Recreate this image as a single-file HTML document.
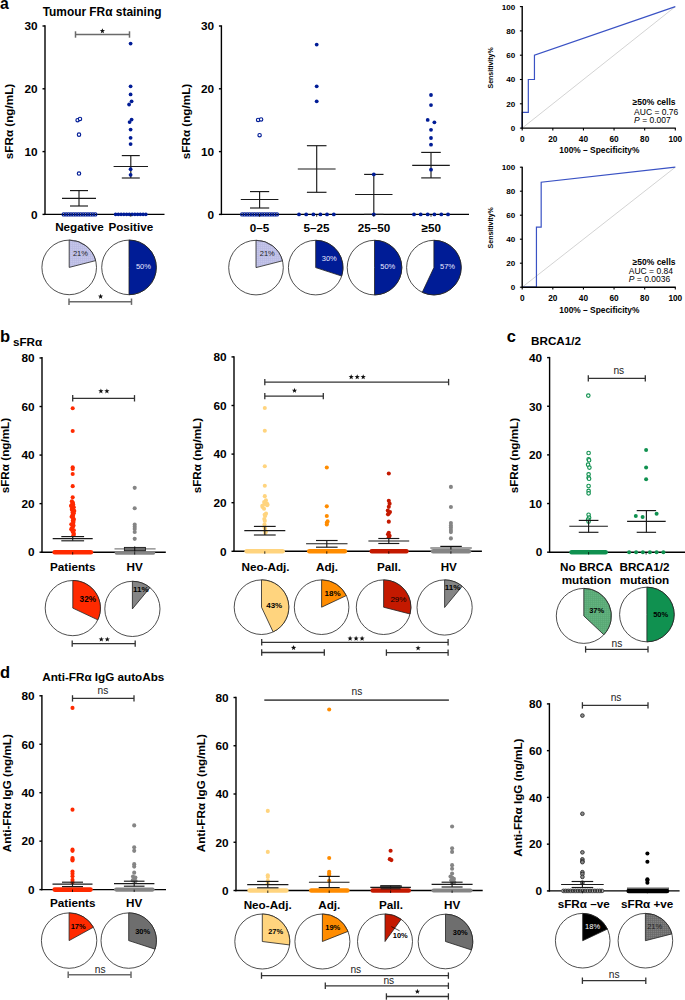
<!DOCTYPE html><html><head><meta charset="utf-8"><style>html,body{margin:0;padding:0;background:#fff;}svg{display:block;font-family:"Liberation Sans", sans-serif;}</style></head><body><svg width="685" height="1000" viewBox="0 0 685 1000" font-family="'Liberation Sans', sans-serif">
<defs><pattern id="pLav" width="2" height="2" patternUnits="userSpaceOnUse"><rect width="2" height="2" fill="#c6c7ea"/><rect width="2" height="0.6" fill="#b8b9e2"/><rect width="0.6" height="2" fill="#b8b9e2"/></pattern><pattern id="pLG" width="2" height="2" patternUnits="userSpaceOnUse"><rect width="2" height="2" fill="#64b380"/><rect width="2" height="0.6" fill="#56a673"/><rect width="0.6" height="2" fill="#56a673"/></pattern><pattern id="pGr" width="2" height="2" patternUnits="userSpaceOnUse"><rect width="2" height="2" fill="#808080"/><rect width="2" height="0.6" fill="#666"/><rect width="0.6" height="2" fill="#666"/></pattern></defs>
<rect width="685" height="1000" fill="#fff"/>
<text x="0.0" y="9.0" font-size="15.8" font-weight="bold" text-anchor="start" fill="#000" >a</text>
<text x="42.7" y="16.0" font-size="11.9" font-weight="bold" text-anchor="start" fill="#000" >Tumour FR&#945; staining</text>
<line x1="45.00" y1="25.30" x2="45.00" y2="215.10" stroke="#000" stroke-width="1.4"/>
<line x1="44.30" y1="214.40" x2="164.50" y2="214.40" stroke="#000" stroke-width="1.4"/>
<line x1="42.50" y1="214.40" x2="45.00" y2="214.40" stroke="#000" stroke-width="1.4"/>
<text x="37.6" y="218.6" font-size="11.8" font-weight="bold" text-anchor="end" fill="#000" >0</text>
<line x1="42.50" y1="151.60" x2="45.00" y2="151.60" stroke="#000" stroke-width="1.4"/>
<text x="37.6" y="155.8" font-size="11.8" font-weight="bold" text-anchor="end" fill="#000" >10</text>
<line x1="42.50" y1="88.80" x2="45.00" y2="88.80" stroke="#000" stroke-width="1.4"/>
<text x="37.6" y="93.0" font-size="11.8" font-weight="bold" text-anchor="end" fill="#000" >20</text>
<line x1="42.50" y1="26.00" x2="45.00" y2="26.00" stroke="#000" stroke-width="1.4"/>
<text x="37.6" y="30.2" font-size="11.8" font-weight="bold" text-anchor="end" fill="#000" >30</text>
<text transform="translate(12.6,121.5) rotate(-90)" x="0" y="0" font-size="11.7" font-weight="bold" text-anchor="middle" fill="#000">sFR&#945; (ng/mL)</text>
<circle cx="77.60" cy="120.20" r="1.7" fill="#fff" stroke="#001c96" stroke-width="1.15"/>
<circle cx="80.00" cy="118.94" r="1.7" fill="#fff" stroke="#001c96" stroke-width="1.15"/>
<circle cx="79.00" cy="134.64" r="1.7" fill="#fff" stroke="#001c96" stroke-width="1.15"/>
<circle cx="79.00" cy="173.58" r="1.7" fill="#fff" stroke="#001c96" stroke-width="1.15"/>
<circle cx="63.70" cy="214.40" r="1.6" fill="none" stroke="#001c96" stroke-width="1.15"/>
<circle cx="66.13" cy="214.40" r="1.6" fill="none" stroke="#001c96" stroke-width="1.15"/>
<circle cx="68.56" cy="214.40" r="1.6" fill="none" stroke="#001c96" stroke-width="1.15"/>
<circle cx="70.99" cy="214.40" r="1.6" fill="none" stroke="#001c96" stroke-width="1.15"/>
<circle cx="73.42" cy="214.40" r="1.6" fill="none" stroke="#001c96" stroke-width="1.15"/>
<circle cx="75.85" cy="214.40" r="1.6" fill="none" stroke="#001c96" stroke-width="1.15"/>
<circle cx="78.28" cy="214.40" r="1.6" fill="none" stroke="#001c96" stroke-width="1.15"/>
<circle cx="80.71" cy="214.40" r="1.6" fill="none" stroke="#001c96" stroke-width="1.15"/>
<circle cx="83.14" cy="214.40" r="1.6" fill="none" stroke="#001c96" stroke-width="1.15"/>
<circle cx="85.57" cy="214.40" r="1.6" fill="none" stroke="#001c96" stroke-width="1.15"/>
<circle cx="88.00" cy="214.40" r="1.6" fill="none" stroke="#001c96" stroke-width="1.15"/>
<circle cx="90.43" cy="214.40" r="1.6" fill="none" stroke="#001c96" stroke-width="1.15"/>
<circle cx="92.86" cy="214.40" r="1.6" fill="none" stroke="#001c96" stroke-width="1.15"/>
<circle cx="95.29" cy="214.40" r="1.6" fill="none" stroke="#001c96" stroke-width="1.15"/>
<line x1="62.00" y1="198.30" x2="96.00" y2="198.30" stroke="#1a1a1a" stroke-width="1.15"/>
<line x1="79.00" y1="190.60" x2="79.00" y2="206.00" stroke="#1a1a1a" stroke-width="1.15"/>
<line x1="70.00" y1="190.60" x2="88.00" y2="190.60" stroke="#1a1a1a" stroke-width="1.15"/>
<line x1="70.00" y1="206.00" x2="88.00" y2="206.00" stroke="#1a1a1a" stroke-width="1.15"/>
<line x1="113.60" y1="166.50" x2="148.00" y2="166.50" stroke="#1a1a1a" stroke-width="1.15"/>
<line x1="130.80" y1="155.60" x2="130.80" y2="178.00" stroke="#1a1a1a" stroke-width="1.15"/>
<line x1="121.80" y1="155.60" x2="139.80" y2="155.60" stroke="#1a1a1a" stroke-width="1.15"/>
<line x1="121.80" y1="178.00" x2="139.80" y2="178.00" stroke="#1a1a1a" stroke-width="1.15"/>
<circle cx="130.60" cy="43.58" r="1.9" fill="#001c96"/>
<circle cx="130.60" cy="86.29" r="1.9" fill="#001c96"/>
<circle cx="130.60" cy="94.45" r="1.9" fill="#001c96"/>
<circle cx="131.60" cy="101.36" r="1.9" fill="#001c96"/>
<circle cx="129.10" cy="104.50" r="1.9" fill="#001c96"/>
<circle cx="131.60" cy="119.57" r="1.9" fill="#001c96"/>
<circle cx="129.60" cy="122.08" r="1.9" fill="#001c96"/>
<circle cx="130.60" cy="129.62" r="1.9" fill="#001c96"/>
<circle cx="130.60" cy="137.78" r="1.9" fill="#001c96"/>
<circle cx="130.60" cy="144.06" r="1.9" fill="#001c96"/>
<circle cx="130.60" cy="169.18" r="1.9" fill="#001c96"/>
<circle cx="130.60" cy="174.84" r="1.9" fill="#001c96"/>
<circle cx="115.60" cy="214.40" r="1.8" fill="#001c96"/>
<circle cx="118.35" cy="214.40" r="1.8" fill="#001c96"/>
<circle cx="121.10" cy="214.40" r="1.8" fill="#001c96"/>
<circle cx="123.85" cy="214.40" r="1.8" fill="#001c96"/>
<circle cx="126.60" cy="214.40" r="1.8" fill="#001c96"/>
<circle cx="129.35" cy="214.40" r="1.8" fill="#001c96"/>
<circle cx="132.10" cy="214.40" r="1.8" fill="#001c96"/>
<circle cx="134.85" cy="214.40" r="1.8" fill="#001c96"/>
<circle cx="137.60" cy="214.40" r="1.8" fill="#001c96"/>
<circle cx="140.35" cy="214.40" r="1.8" fill="#001c96"/>
<circle cx="143.10" cy="214.40" r="1.8" fill="#001c96"/>
<circle cx="145.85" cy="214.40" r="1.8" fill="#001c96"/>
<line x1="130.80" y1="214.40" x2="130.80" y2="216.80" stroke="#000" stroke-width="0.8"/>
<text x="79.5" y="231.0" font-size="11.7" font-weight="bold" text-anchor="middle" fill="#000" >Negative</text>
<text x="130.8" y="231.0" font-size="11.7" font-weight="bold" text-anchor="middle" fill="#000" >Positive</text>
<circle cx="69.20" cy="267.40" r="27.3" fill="#fff" stroke="#222" stroke-width="0.8"/>
<path d="M69.20,267.40 L69.20,240.10 A27.3,27.3 0 0 1 95.64,260.61 Z" fill="url(#pLav)" stroke="#222" stroke-width="0.8" stroke-linejoin="round"/>
<text x="80.4" y="256.1" font-size="7.5" font-weight="normal" text-anchor="middle" fill="#222" >21%</text>
<circle cx="129.00" cy="267.40" r="27.3" fill="#fff" stroke="#222" stroke-width="0.8"/>
<path d="M129.00,267.40 L129.00,240.10 A27.3,27.3 0 0 1 129.00,294.70 Z" fill="#001c96" stroke="#222" stroke-width="0.8" stroke-linejoin="round"/>
<text x="143.4" y="269.1" font-size="7.5" font-weight="normal" text-anchor="middle" fill="#e8e8ff" >50%</text>
<line x1="69.00" y1="301.70" x2="131.50" y2="301.70" stroke="#6a6a6a" stroke-width="1.5"/>
<line x1="69.00" y1="298.50" x2="69.00" y2="304.90" stroke="#6a6a6a" stroke-width="1.5"/>
<line x1="131.50" y1="298.50" x2="131.50" y2="304.90" stroke="#6a6a6a" stroke-width="1.5"/>
<polygon points="100.60,293.75 101.28,295.57 103.22,295.65 101.70,296.86 102.22,298.72 100.60,297.65 98.98,298.72 99.50,296.86 97.98,295.65 99.92,295.57" fill="#111"/>
<line x1="75.50" y1="34.50" x2="129.50" y2="34.50" stroke="#6a6a6a" stroke-width="1.5"/>
<line x1="75.50" y1="31.30" x2="75.50" y2="37.70" stroke="#6a6a6a" stroke-width="1.5"/>
<line x1="129.50" y1="31.30" x2="129.50" y2="37.70" stroke="#6a6a6a" stroke-width="1.5"/>
<polygon points="102.40,28.25 103.08,30.07 105.02,30.15 103.50,31.36 104.02,33.22 102.40,32.16 100.78,33.22 101.30,31.36 99.78,30.15 101.72,30.07" fill="#111"/>
<line x1="221.40" y1="25.30" x2="221.40" y2="215.10" stroke="#000" stroke-width="1.4"/>
<line x1="220.70" y1="214.40" x2="469.00" y2="214.40" stroke="#000" stroke-width="1.4"/>
<line x1="218.90" y1="214.40" x2="221.40" y2="214.40" stroke="#000" stroke-width="1.4"/>
<text x="214.0" y="218.6" font-size="11.8" font-weight="bold" text-anchor="end" fill="#000" >0</text>
<line x1="218.90" y1="151.60" x2="221.40" y2="151.60" stroke="#000" stroke-width="1.4"/>
<text x="214.0" y="155.8" font-size="11.8" font-weight="bold" text-anchor="end" fill="#000" >10</text>
<line x1="218.90" y1="88.80" x2="221.40" y2="88.80" stroke="#000" stroke-width="1.4"/>
<text x="214.0" y="93.0" font-size="11.8" font-weight="bold" text-anchor="end" fill="#000" >20</text>
<line x1="218.90" y1="26.00" x2="221.40" y2="26.00" stroke="#000" stroke-width="1.4"/>
<text x="214.0" y="30.2" font-size="11.8" font-weight="bold" text-anchor="end" fill="#000" >30</text>
<text transform="translate(189.6,121.5) rotate(-90)" x="0" y="0" font-size="11.7" font-weight="bold" text-anchor="middle" fill="#000">sFR&#945; (ng/mL)</text>
<circle cx="258.10" cy="119.90" r="1.7" fill="#fff" stroke="#001c96" stroke-width="1.15"/>
<circle cx="261.10" cy="119.40" r="1.7" fill="#fff" stroke="#001c96" stroke-width="1.15"/>
<circle cx="259.60" cy="135.20" r="1.7" fill="#fff" stroke="#001c96" stroke-width="1.15"/>
<circle cx="242.20" cy="214.40" r="1.6" fill="none" stroke="#001c96" stroke-width="1.15"/>
<circle cx="244.68" cy="214.40" r="1.6" fill="none" stroke="#001c96" stroke-width="1.15"/>
<circle cx="247.16" cy="214.40" r="1.6" fill="none" stroke="#001c96" stroke-width="1.15"/>
<circle cx="249.64" cy="214.40" r="1.6" fill="none" stroke="#001c96" stroke-width="1.15"/>
<circle cx="252.12" cy="214.40" r="1.6" fill="none" stroke="#001c96" stroke-width="1.15"/>
<circle cx="254.60" cy="214.40" r="1.6" fill="none" stroke="#001c96" stroke-width="1.15"/>
<circle cx="257.08" cy="214.40" r="1.6" fill="none" stroke="#001c96" stroke-width="1.15"/>
<circle cx="259.56" cy="214.40" r="1.6" fill="none" stroke="#001c96" stroke-width="1.15"/>
<circle cx="262.04" cy="214.40" r="1.6" fill="none" stroke="#001c96" stroke-width="1.15"/>
<circle cx="264.52" cy="214.40" r="1.6" fill="none" stroke="#001c96" stroke-width="1.15"/>
<circle cx="267.00" cy="214.40" r="1.6" fill="none" stroke="#001c96" stroke-width="1.15"/>
<circle cx="269.48" cy="214.40" r="1.6" fill="none" stroke="#001c96" stroke-width="1.15"/>
<circle cx="271.96" cy="214.40" r="1.6" fill="none" stroke="#001c96" stroke-width="1.15"/>
<circle cx="274.44" cy="214.40" r="1.6" fill="none" stroke="#001c96" stroke-width="1.15"/>
<circle cx="276.92" cy="214.40" r="1.6" fill="none" stroke="#001c96" stroke-width="1.15"/>
<line x1="240.80" y1="199.50" x2="278.40" y2="199.50" stroke="#1a1a1a" stroke-width="1.15"/>
<line x1="259.60" y1="191.60" x2="259.60" y2="208.00" stroke="#1a1a1a" stroke-width="1.15"/>
<line x1="250.00" y1="191.60" x2="269.20" y2="191.60" stroke="#1a1a1a" stroke-width="1.15"/>
<line x1="250.00" y1="208.00" x2="269.20" y2="208.00" stroke="#1a1a1a" stroke-width="1.15"/>
<line x1="297.80" y1="169.00" x2="335.60" y2="169.00" stroke="#1a1a1a" stroke-width="1.15"/>
<line x1="316.70" y1="145.70" x2="316.70" y2="192.30" stroke="#1a1a1a" stroke-width="1.15"/>
<line x1="306.90" y1="145.70" x2="326.50" y2="145.70" stroke="#1a1a1a" stroke-width="1.15"/>
<line x1="306.90" y1="192.30" x2="326.50" y2="192.30" stroke="#1a1a1a" stroke-width="1.15"/>
<circle cx="316.70" cy="44.53" r="1.9" fill="#001c96"/>
<circle cx="316.70" cy="86.29" r="1.9" fill="#001c96"/>
<circle cx="316.70" cy="101.36" r="1.9" fill="#001c96"/>
<circle cx="299.00" cy="214.40" r="1.9" fill="#001c96"/>
<circle cx="306.20" cy="214.40" r="1.9" fill="#001c96"/>
<circle cx="313.40" cy="214.40" r="1.9" fill="#001c96"/>
<circle cx="320.40" cy="214.40" r="1.9" fill="#001c96"/>
<circle cx="327.00" cy="214.40" r="1.9" fill="#001c96"/>
<circle cx="333.80" cy="214.40" r="1.9" fill="#001c96"/>
<line x1="355.10" y1="194.50" x2="392.50" y2="194.50" stroke="#1a1a1a" stroke-width="1.15"/>
<line x1="373.80" y1="174.40" x2="373.80" y2="214.40" stroke="#1a1a1a" stroke-width="1.15"/>
<line x1="364.10" y1="174.40" x2="383.50" y2="174.40" stroke="#1a1a1a" stroke-width="1.15"/>
<line x1="364.10" y1="214.40" x2="383.50" y2="214.40" stroke="#1a1a1a" stroke-width="1.15"/>
<circle cx="373.80" cy="174.40" r="1.9" fill="#001c96"/>
<circle cx="373.80" cy="214.40" r="1.9" fill="#001c96"/>
<line x1="412.20" y1="165.30" x2="449.80" y2="165.30" stroke="#1a1a1a" stroke-width="1.15"/>
<line x1="431.00" y1="152.40" x2="431.00" y2="177.90" stroke="#1a1a1a" stroke-width="1.15"/>
<line x1="421.20" y1="152.40" x2="440.80" y2="152.40" stroke="#1a1a1a" stroke-width="1.15"/>
<line x1="421.20" y1="177.90" x2="440.80" y2="177.90" stroke="#1a1a1a" stroke-width="1.15"/>
<circle cx="431.00" cy="95.00" r="1.9" fill="#001c96"/>
<circle cx="431.00" cy="105.10" r="1.9" fill="#001c96"/>
<circle cx="427.70" cy="119.90" r="1.9" fill="#001c96"/>
<circle cx="434.40" cy="122.30" r="1.9" fill="#001c96"/>
<circle cx="431.00" cy="129.80" r="1.9" fill="#001c96"/>
<circle cx="431.00" cy="138.00" r="1.9" fill="#001c96"/>
<circle cx="431.00" cy="144.70" r="1.9" fill="#001c96"/>
<circle cx="431.00" cy="169.70" r="1.9" fill="#001c96"/>
<circle cx="414.00" cy="214.40" r="1.9" fill="#001c96"/>
<circle cx="420.70" cy="214.40" r="1.9" fill="#001c96"/>
<circle cx="427.70" cy="214.40" r="1.9" fill="#001c96"/>
<circle cx="434.40" cy="214.40" r="1.9" fill="#001c96"/>
<circle cx="441.30" cy="214.40" r="1.9" fill="#001c96"/>
<circle cx="448.00" cy="214.40" r="1.9" fill="#001c96"/>
<line x1="259.60" y1="214.40" x2="259.60" y2="216.80" stroke="#000" stroke-width="0.8"/>
<line x1="316.70" y1="214.40" x2="316.70" y2="216.80" stroke="#000" stroke-width="0.8"/>
<line x1="373.80" y1="214.40" x2="373.80" y2="216.80" stroke="#000" stroke-width="0.8"/>
<line x1="431.00" y1="214.40" x2="431.00" y2="216.80" stroke="#000" stroke-width="0.8"/>
<text x="259.6" y="231.6" font-size="11.7" font-weight="bold" text-anchor="middle" fill="#000" >0&#8211;5</text>
<text x="316.6" y="231.6" font-size="11.7" font-weight="bold" text-anchor="middle" fill="#000" >5&#8211;25</text>
<text x="373.9" y="231.6" font-size="11.7" font-weight="bold" text-anchor="middle" fill="#000" >25&#8211;50</text>
<text x="431.2" y="231.6" font-size="11.7" font-weight="bold" text-anchor="middle" fill="#000" >&#8805;50</text>
<circle cx="256.00" cy="267.60" r="27.3" fill="#fff" stroke="#222" stroke-width="0.8"/>
<path d="M256.00,267.60 L256.00,240.30 A27.3,27.3 0 0 1 282.44,260.81 Z" fill="url(#pLav)" stroke="#222" stroke-width="0.8" stroke-linejoin="round"/>
<text x="267.3" y="256.1" font-size="7.5" font-weight="normal" text-anchor="middle" fill="#222" >21%</text>
<circle cx="315.70" cy="267.60" r="27.3" fill="#fff" stroke="#222" stroke-width="0.8"/>
<path d="M315.70,267.60 L315.70,240.30 A27.3,27.3 0 0 1 341.66,276.04 Z" fill="#001c96" stroke="#222" stroke-width="0.8" stroke-linejoin="round"/>
<text x="329.3" y="260.6" font-size="7.5" font-weight="normal" text-anchor="middle" fill="#e8e8ff" >30%</text>
<circle cx="374.50" cy="267.60" r="27.3" fill="#fff" stroke="#222" stroke-width="0.8"/>
<path d="M374.50,267.60 L374.50,240.30 A27.3,27.3 0 0 1 374.50,294.90 Z" fill="#001c96" stroke="#222" stroke-width="0.8" stroke-linejoin="round"/>
<text x="387.8" y="269.3" font-size="7.5" font-weight="normal" text-anchor="middle" fill="#e8e8ff" >50%</text>
<circle cx="433.90" cy="267.60" r="27.3" fill="#fff" stroke="#222" stroke-width="0.8"/>
<path d="M433.90,267.60 L433.90,240.30 A27.3,27.3 0 1 1 422.28,292.30 Z" fill="#001c96" stroke="#222" stroke-width="0.8" stroke-linejoin="round"/>
<text x="447.5" y="269.3" font-size="7.5" font-weight="normal" text-anchor="middle" fill="#e8e8ff" >57%</text>
<line x1="522.20" y1="128.10" x2="675.30" y2="6.60" stroke="#b5b5b5" stroke-width="0.6"/>
<path d="M522.20,128.10 L522.20,112.30 L528.32,112.30 L528.32,79.50 L534.45,79.50 L534.45,55.20 L675.30,6.60" fill="none" stroke="#3a52c4" stroke-width="1.2"/>
<line x1="522.20" y1="6.10" x2="522.20" y2="128.70" stroke="#000" stroke-width="1.4"/>
<line x1="521.60" y1="128.10" x2="675.80" y2="128.10" stroke="#000" stroke-width="1.4"/>
<line x1="519.90" y1="128.10" x2="522.20" y2="128.10" stroke="#000" stroke-width="1.1"/>
<text x="515.2" y="131.0" font-size="8.1" font-weight="bold" text-anchor="end" fill="#000" >0</text>
<line x1="522.20" y1="128.10" x2="522.20" y2="130.40" stroke="#000" stroke-width="1.1"/>
<text x="522.2" y="141.5" font-size="8.3" font-weight="bold" text-anchor="middle" fill="#000" >0</text>
<line x1="519.90" y1="103.80" x2="522.20" y2="103.80" stroke="#000" stroke-width="1.1"/>
<text x="515.2" y="106.7" font-size="8.1" font-weight="bold" text-anchor="end" fill="#000" >20</text>
<line x1="552.82" y1="128.10" x2="552.82" y2="130.40" stroke="#000" stroke-width="1.1"/>
<text x="552.8" y="141.5" font-size="8.3" font-weight="bold" text-anchor="middle" fill="#000" >20</text>
<line x1="519.90" y1="79.50" x2="522.20" y2="79.50" stroke="#000" stroke-width="1.1"/>
<text x="515.2" y="82.4" font-size="8.1" font-weight="bold" text-anchor="end" fill="#000" >40</text>
<line x1="583.44" y1="128.10" x2="583.44" y2="130.40" stroke="#000" stroke-width="1.1"/>
<text x="583.4" y="141.5" font-size="8.3" font-weight="bold" text-anchor="middle" fill="#000" >40</text>
<line x1="519.90" y1="55.20" x2="522.20" y2="55.20" stroke="#000" stroke-width="1.1"/>
<text x="515.2" y="58.1" font-size="8.1" font-weight="bold" text-anchor="end" fill="#000" >60</text>
<line x1="614.06" y1="128.10" x2="614.06" y2="130.40" stroke="#000" stroke-width="1.1"/>
<text x="614.1" y="141.5" font-size="8.3" font-weight="bold" text-anchor="middle" fill="#000" >60</text>
<line x1="519.90" y1="30.90" x2="522.20" y2="30.90" stroke="#000" stroke-width="1.1"/>
<text x="515.2" y="33.8" font-size="8.1" font-weight="bold" text-anchor="end" fill="#000" >80</text>
<line x1="644.68" y1="128.10" x2="644.68" y2="130.40" stroke="#000" stroke-width="1.1"/>
<text x="644.7" y="141.5" font-size="8.3" font-weight="bold" text-anchor="middle" fill="#000" >80</text>
<line x1="519.90" y1="6.60" x2="522.20" y2="6.60" stroke="#000" stroke-width="1.1"/>
<text x="515.2" y="9.5" font-size="8.1" font-weight="bold" text-anchor="end" fill="#000" >100</text>
<line x1="675.30" y1="128.10" x2="675.30" y2="130.40" stroke="#000" stroke-width="1.1"/>
<text x="675.3" y="141.5" font-size="8.3" font-weight="bold" text-anchor="middle" fill="#000" >100</text>
<text transform="translate(493.0,67.9) rotate(-90)" x="0" y="0" font-size="7" font-weight="bold" text-anchor="middle" fill="#000">Sensitivity%</text>
<text x="599.4" y="153.4" font-size="8.4" font-weight="bold" text-anchor="middle" fill="#000" >100% &#8211; Specificity%</text>
<text x="632.6" y="105.4" font-size="8.5" font-weight="bold" text-anchor="start" fill="#000" >&#8805;50% cells</text>
<text x="634.1" y="114.6" font-size="8.5" font-weight="normal" text-anchor="start" fill="#000" >AUC = 0.76</text>
<text x="634.1" y="122.7" font-size="8.5" fill="#000"><tspan font-style="italic">P</tspan> = 0.007</text>
<line x1="522.20" y1="287.20" x2="675.30" y2="167.20" stroke="#b5b5b5" stroke-width="0.6"/>
<path d="M522.20,287.20 L536.44,287.20 L536.44,227.20 L541.18,227.20 L541.18,182.20 L675.30,167.20" fill="none" stroke="#3a52c4" stroke-width="1.2"/>
<line x1="522.20" y1="166.70" x2="522.20" y2="287.80" stroke="#000" stroke-width="1.4"/>
<line x1="521.60" y1="287.20" x2="675.80" y2="287.20" stroke="#000" stroke-width="1.4"/>
<line x1="519.90" y1="287.20" x2="522.20" y2="287.20" stroke="#000" stroke-width="1.1"/>
<text x="515.2" y="290.1" font-size="8.1" font-weight="bold" text-anchor="end" fill="#000" >0</text>
<line x1="522.20" y1="287.20" x2="522.20" y2="289.50" stroke="#000" stroke-width="1.1"/>
<text x="522.2" y="300.6" font-size="8.3" font-weight="bold" text-anchor="middle" fill="#000" >0</text>
<line x1="519.90" y1="263.20" x2="522.20" y2="263.20" stroke="#000" stroke-width="1.1"/>
<text x="515.2" y="266.1" font-size="8.1" font-weight="bold" text-anchor="end" fill="#000" >20</text>
<line x1="552.82" y1="287.20" x2="552.82" y2="289.50" stroke="#000" stroke-width="1.1"/>
<text x="552.8" y="300.6" font-size="8.3" font-weight="bold" text-anchor="middle" fill="#000" >20</text>
<line x1="519.90" y1="239.20" x2="522.20" y2="239.20" stroke="#000" stroke-width="1.1"/>
<text x="515.2" y="242.1" font-size="8.1" font-weight="bold" text-anchor="end" fill="#000" >40</text>
<line x1="583.44" y1="287.20" x2="583.44" y2="289.50" stroke="#000" stroke-width="1.1"/>
<text x="583.4" y="300.6" font-size="8.3" font-weight="bold" text-anchor="middle" fill="#000" >40</text>
<line x1="519.90" y1="215.20" x2="522.20" y2="215.20" stroke="#000" stroke-width="1.1"/>
<text x="515.2" y="218.1" font-size="8.1" font-weight="bold" text-anchor="end" fill="#000" >60</text>
<line x1="614.06" y1="287.20" x2="614.06" y2="289.50" stroke="#000" stroke-width="1.1"/>
<text x="614.1" y="300.6" font-size="8.3" font-weight="bold" text-anchor="middle" fill="#000" >60</text>
<line x1="519.90" y1="191.20" x2="522.20" y2="191.20" stroke="#000" stroke-width="1.1"/>
<text x="515.2" y="194.1" font-size="8.1" font-weight="bold" text-anchor="end" fill="#000" >80</text>
<line x1="644.68" y1="287.20" x2="644.68" y2="289.50" stroke="#000" stroke-width="1.1"/>
<text x="644.7" y="300.6" font-size="8.3" font-weight="bold" text-anchor="middle" fill="#000" >80</text>
<line x1="519.90" y1="167.20" x2="522.20" y2="167.20" stroke="#000" stroke-width="1.1"/>
<text x="515.2" y="170.1" font-size="8.1" font-weight="bold" text-anchor="end" fill="#000" >100</text>
<line x1="675.30" y1="287.20" x2="675.30" y2="289.50" stroke="#000" stroke-width="1.1"/>
<text x="675.3" y="300.6" font-size="8.3" font-weight="bold" text-anchor="middle" fill="#000" >100</text>
<text transform="translate(493.0,227.8) rotate(-90)" x="0" y="0" font-size="7" font-weight="bold" text-anchor="middle" fill="#000">Sensitivity%</text>
<text x="599.4" y="312.5" font-size="8.4" font-weight="bold" text-anchor="middle" fill="#000" >100% &#8211; Specificity%</text>
<text x="632.6" y="264.6" font-size="8.5" font-weight="bold" text-anchor="start" fill="#000" >&#8805;50% cells</text>
<text x="628.8" y="273.8" font-size="8.5" font-weight="normal" text-anchor="start" fill="#000" >AUC = 0.84</text>
<text x="628.8" y="281.9" font-size="8.5" fill="#000"><tspan font-style="italic">P</tspan> = 0.0036</text>
<text x="0.0" y="342.0" font-size="16.5" font-weight="bold" text-anchor="start" fill="#000" >b</text>
<text x="12.9" y="346.4" font-size="11.7" font-weight="bold" text-anchor="start" fill="#000" >sFR&#945;</text>
<line x1="42.00" y1="357.10" x2="42.00" y2="552.90" stroke="#000" stroke-width="1.4"/>
<line x1="41.30" y1="552.20" x2="165.80" y2="552.20" stroke="#000" stroke-width="1.4"/>
<line x1="39.50" y1="552.20" x2="42.00" y2="552.20" stroke="#000" stroke-width="1.4"/>
<text x="34.6" y="556.4" font-size="11.8" font-weight="bold" text-anchor="end" fill="#000" >0</text>
<line x1="39.50" y1="503.64" x2="42.00" y2="503.64" stroke="#000" stroke-width="1.4"/>
<text x="34.6" y="507.9" font-size="11.8" font-weight="bold" text-anchor="end" fill="#000" >20</text>
<line x1="39.50" y1="455.08" x2="42.00" y2="455.08" stroke="#000" stroke-width="1.4"/>
<text x="34.6" y="459.3" font-size="11.8" font-weight="bold" text-anchor="end" fill="#000" >40</text>
<line x1="39.50" y1="406.52" x2="42.00" y2="406.52" stroke="#000" stroke-width="1.4"/>
<text x="34.6" y="410.7" font-size="11.8" font-weight="bold" text-anchor="end" fill="#000" >60</text>
<line x1="39.50" y1="357.96" x2="42.00" y2="357.96" stroke="#000" stroke-width="1.4"/>
<text x="34.6" y="362.2" font-size="11.8" font-weight="bold" text-anchor="end" fill="#000" >80</text>
<text transform="translate(9.1,455.6) rotate(-90)" x="0" y="0" font-size="11.7" font-weight="bold" text-anchor="middle" fill="#000">sFR&#945; (ng/mL)</text>
<line x1="72.70" y1="398.30" x2="134.50" y2="398.30" stroke="#333" stroke-width="1.3"/>
<line x1="72.70" y1="395.10" x2="72.70" y2="401.50" stroke="#333" stroke-width="1.3"/>
<line x1="134.50" y1="395.10" x2="134.50" y2="401.50" stroke="#333" stroke-width="1.3"/>
<polygon points="100.90,388.45 101.58,390.27 103.52,390.35 102.00,391.56 102.52,393.42 100.90,392.35 99.28,393.42 99.80,391.56 98.28,390.35 100.22,390.27" fill="#111"/>
<polygon points="106.90,388.45 107.58,390.27 109.52,390.35 108.00,391.56 108.52,393.42 106.90,392.35 105.28,393.42 105.80,391.56 104.28,390.35 106.22,390.27" fill="#111"/>
<circle cx="72.70" cy="408.22" r="2.05" fill="#ff2a00"/>
<circle cx="72.70" cy="431.04" r="2.05" fill="#ff2a00"/>
<circle cx="72.70" cy="467.22" r="2.05" fill="#ff2a00"/>
<circle cx="72.70" cy="468.92" r="2.05" fill="#ff2a00"/>
<circle cx="72.70" cy="474.02" r="2.05" fill="#ff2a00"/>
<circle cx="72.70" cy="486.16" r="2.05" fill="#ff2a00"/>
<circle cx="72.70" cy="497.33" r="2.05" fill="#ff2a00"/>
<circle cx="71.86" cy="501.21" r="2.05" fill="#ff2a00"/>
<circle cx="72.84" cy="502.43" r="2.05" fill="#ff2a00"/>
<circle cx="72.28" cy="503.64" r="2.05" fill="#ff2a00"/>
<circle cx="73.03" cy="504.37" r="2.05" fill="#ff2a00"/>
<circle cx="73.10" cy="504.85" r="2.05" fill="#ff2a00"/>
<circle cx="71.31" cy="505.58" r="2.05" fill="#ff2a00"/>
<circle cx="71.14" cy="506.07" r="2.05" fill="#ff2a00"/>
<circle cx="73.78" cy="507.28" r="2.05" fill="#ff2a00"/>
<circle cx="71.93" cy="508.50" r="2.05" fill="#ff2a00"/>
<circle cx="71.85" cy="509.71" r="2.05" fill="#ff2a00"/>
<circle cx="74.29" cy="510.92" r="2.05" fill="#ff2a00"/>
<circle cx="72.60" cy="512.62" r="2.05" fill="#ff2a00"/>
<circle cx="73.78" cy="513.35" r="2.05" fill="#ff2a00"/>
<circle cx="72.62" cy="514.57" r="2.05" fill="#ff2a00"/>
<circle cx="73.15" cy="515.78" r="2.05" fill="#ff2a00"/>
<circle cx="71.58" cy="516.75" r="2.05" fill="#ff2a00"/>
<circle cx="73.13" cy="518.21" r="2.05" fill="#ff2a00"/>
<circle cx="73.88" cy="519.42" r="2.05" fill="#ff2a00"/>
<circle cx="72.77" cy="520.64" r="2.05" fill="#ff2a00"/>
<circle cx="73.47" cy="521.85" r="2.05" fill="#ff2a00"/>
<circle cx="73.25" cy="523.06" r="2.05" fill="#ff2a00"/>
<circle cx="71.30" cy="524.28" r="2.05" fill="#ff2a00"/>
<circle cx="73.53" cy="525.49" r="2.05" fill="#ff2a00"/>
<circle cx="72.99" cy="526.71" r="2.05" fill="#ff2a00"/>
<circle cx="72.06" cy="527.92" r="2.05" fill="#ff2a00"/>
<circle cx="71.20" cy="529.13" r="2.05" fill="#ff2a00"/>
<circle cx="73.87" cy="530.35" r="2.05" fill="#ff2a00"/>
<circle cx="72.61" cy="531.56" r="2.05" fill="#ff2a00"/>
<circle cx="73.40" cy="532.78" r="2.05" fill="#ff2a00"/>
<circle cx="73.91" cy="533.99" r="2.05" fill="#ff2a00"/>
<circle cx="73.39" cy="535.20" r="2.05" fill="#ff2a00"/>
<line x1="54.70" y1="552.20" x2="90.90" y2="552.20" stroke="#ff2a00" stroke-width="4.6" stroke-linecap="round"/>
<line x1="52.70" y1="538.60" x2="92.70" y2="538.60" stroke="#1a1a1a" stroke-width="1.15"/>
<line x1="72.70" y1="536.60" x2="72.70" y2="540.80" stroke="#1a1a1a" stroke-width="1.15"/>
<line x1="61.30" y1="536.60" x2="84.10" y2="536.60" stroke="#1a1a1a" stroke-width="1.15"/>
<line x1="61.30" y1="540.80" x2="84.10" y2="540.80" stroke="#1a1a1a" stroke-width="1.15"/>
<circle cx="134.70" cy="487.86" r="2.05" fill="#858585"/>
<circle cx="134.70" cy="508.25" r="2.05" fill="#858585"/>
<circle cx="134.70" cy="524.52" r="2.05" fill="#858585"/>
<circle cx="134.70" cy="526.71" r="2.05" fill="#858585"/>
<circle cx="134.70" cy="528.89" r="2.05" fill="#858585"/>
<circle cx="134.70" cy="532.05" r="2.05" fill="#858585"/>
<circle cx="134.70" cy="538.85" r="2.05" fill="#858585"/>
<line x1="116.50" y1="552.80" x2="153.40" y2="552.80" stroke="#858585" stroke-width="3.8" stroke-linecap="round"/>
<line x1="114.50" y1="548.90" x2="155.60" y2="548.90" stroke="#808080" stroke-width="1.3"/>
<rect x="124.4" y="547.4" width="21" height="3.3" fill="#6a6a6a" stroke="#1a1a1a" stroke-width="0.9"/>
<line x1="134.70" y1="546.50" x2="134.70" y2="551.50" stroke="#111" stroke-width="1.1"/>
<line x1="72.70" y1="552.20" x2="72.70" y2="554.60" stroke="#000" stroke-width="0.8"/>
<line x1="134.70" y1="552.20" x2="134.70" y2="554.60" stroke="#000" stroke-width="0.8"/>
<text x="72.7" y="571.0" font-size="11.7" font-weight="bold" text-anchor="middle" fill="#000" >Patients</text>
<text x="134.7" y="571.0" font-size="11.7" font-weight="bold" text-anchor="middle" fill="#000" >HV</text>
<circle cx="72.80" cy="608.10" r="27.6" fill="#fff" stroke="#222" stroke-width="0.8"/>
<path d="M72.80,608.10 L72.80,580.50 A27.6,27.6 0 0 1 97.77,619.85 Z" fill="#ff2a00" stroke="#222" stroke-width="0.8" stroke-linejoin="round"/>
<text x="87.8" y="602.1" font-size="8.2" font-weight="bold" text-anchor="middle" fill="#000" >32%</text>
<circle cx="132.40" cy="608.90" r="27.6" fill="#fff" stroke="#222" stroke-width="0.8"/>
<path d="M132.40,608.90 L132.40,581.30 A27.6,27.6 0 0 1 149.99,587.63 Z" fill="#858585" stroke="#222" stroke-width="0.8" stroke-linejoin="round"/>
<text x="140.9" y="591.6" font-size="8" font-weight="bold" text-anchor="middle" fill="#000" >11%</text>
<line x1="72.20" y1="643.60" x2="135.20" y2="643.60" stroke="#333" stroke-width="1.3"/>
<line x1="72.20" y1="640.40" x2="72.20" y2="646.80" stroke="#333" stroke-width="1.3"/>
<line x1="135.20" y1="640.40" x2="135.20" y2="646.80" stroke="#333" stroke-width="1.3"/>
<polygon points="101.30,636.65 101.98,638.47 103.92,638.55 102.40,639.76 102.92,641.62 101.30,640.55 99.68,641.62 100.20,639.76 98.68,638.55 100.62,638.47" fill="#111"/>
<polygon points="107.30,636.65 107.98,638.47 109.92,638.55 108.40,639.76 108.92,641.62 107.30,640.55 105.68,641.62 106.20,639.76 104.68,638.55 106.62,638.47" fill="#111"/>
<line x1="234.00" y1="356.30" x2="234.00" y2="552.00" stroke="#000" stroke-width="1.4"/>
<line x1="233.30" y1="551.30" x2="481.90" y2="551.30" stroke="#000" stroke-width="1.4"/>
<line x1="231.50" y1="551.30" x2="234.00" y2="551.30" stroke="#000" stroke-width="1.4"/>
<text x="226.6" y="555.5" font-size="11.8" font-weight="bold" text-anchor="end" fill="#000" >0</text>
<line x1="231.50" y1="502.70" x2="234.00" y2="502.70" stroke="#000" stroke-width="1.4"/>
<text x="226.6" y="506.9" font-size="11.8" font-weight="bold" text-anchor="end" fill="#000" >20</text>
<line x1="231.50" y1="454.10" x2="234.00" y2="454.10" stroke="#000" stroke-width="1.4"/>
<text x="226.6" y="458.3" font-size="11.8" font-weight="bold" text-anchor="end" fill="#000" >40</text>
<line x1="231.50" y1="405.50" x2="234.00" y2="405.50" stroke="#000" stroke-width="1.4"/>
<text x="226.6" y="409.7" font-size="11.8" font-weight="bold" text-anchor="end" fill="#000" >60</text>
<line x1="231.50" y1="356.90" x2="234.00" y2="356.90" stroke="#000" stroke-width="1.4"/>
<text x="226.6" y="361.1" font-size="11.8" font-weight="bold" text-anchor="end" fill="#000" >80</text>
<text transform="translate(201.0,455.6) rotate(-90)" x="0" y="0" font-size="11.7" font-weight="bold" text-anchor="middle" fill="#000">sFR&#945; (ng/mL)</text>
<line x1="264.80" y1="382.10" x2="448.60" y2="382.10" stroke="#333" stroke-width="1.3"/>
<line x1="264.80" y1="378.90" x2="264.80" y2="385.30" stroke="#333" stroke-width="1.3"/>
<line x1="448.60" y1="378.90" x2="448.60" y2="385.30" stroke="#333" stroke-width="1.3"/>
<polygon points="351.20,374.25 351.88,376.07 353.82,376.15 352.30,377.36 352.82,379.22 351.20,378.15 349.58,379.22 350.10,377.36 348.58,376.15 350.52,376.07" fill="#111"/>
<polygon points="357.20,374.25 357.88,376.07 359.82,376.15 358.30,377.36 358.82,379.22 357.20,378.15 355.58,379.22 356.10,377.36 354.58,376.15 356.52,376.07" fill="#111"/>
<polygon points="363.20,374.25 363.88,376.07 365.82,376.15 364.30,377.36 364.82,379.22 363.20,378.15 361.58,379.22 362.10,377.36 360.58,376.15 362.52,376.07" fill="#111"/>
<line x1="264.80" y1="396.10" x2="323.30" y2="396.10" stroke="#333" stroke-width="1.3"/>
<line x1="264.80" y1="392.90" x2="264.80" y2="399.30" stroke="#333" stroke-width="1.3"/>
<line x1="323.30" y1="392.90" x2="323.30" y2="399.30" stroke="#333" stroke-width="1.3"/>
<polygon points="294.50,387.85 295.18,389.67 297.12,389.75 295.60,390.96 296.12,392.82 294.50,391.75 292.88,392.82 293.40,390.96 291.88,389.75 293.82,389.67" fill="#111"/>
<circle cx="264.80" cy="407.93" r="2.05" fill="#ffd47e"/>
<circle cx="264.80" cy="430.77" r="2.05" fill="#ffd47e"/>
<circle cx="264.80" cy="466.25" r="2.05" fill="#ffd47e"/>
<circle cx="264.80" cy="485.69" r="2.05" fill="#ffd47e"/>
<circle cx="264.80" cy="496.14" r="2.05" fill="#ffd47e"/>
<circle cx="265.91" cy="500.27" r="2.05" fill="#ffd47e"/>
<circle cx="264.15" cy="501.97" r="2.05" fill="#ffd47e"/>
<circle cx="266.65" cy="503.19" r="2.05" fill="#ffd47e"/>
<circle cx="264.46" cy="503.91" r="2.05" fill="#ffd47e"/>
<circle cx="267.48" cy="504.40" r="2.05" fill="#ffd47e"/>
<circle cx="267.13" cy="505.13" r="2.05" fill="#ffd47e"/>
<circle cx="262.32" cy="505.86" r="2.05" fill="#ffd47e"/>
<circle cx="262.56" cy="507.07" r="2.05" fill="#ffd47e"/>
<circle cx="264.05" cy="508.77" r="2.05" fill="#ffd47e"/>
<circle cx="266.03" cy="513.63" r="2.05" fill="#ffd47e"/>
<circle cx="264.63" cy="514.85" r="2.05" fill="#ffd47e"/>
<circle cx="265.13" cy="516.06" r="2.05" fill="#ffd47e"/>
<circle cx="264.27" cy="518.98" r="2.05" fill="#ffd47e"/>
<circle cx="264.82" cy="520.92" r="2.05" fill="#ffd47e"/>
<circle cx="264.50" cy="524.57" r="2.05" fill="#ffd47e"/>
<circle cx="264.41" cy="527.00" r="2.05" fill="#ffd47e"/>
<circle cx="265.02" cy="528.21" r="2.05" fill="#ffd47e"/>
<circle cx="265.02" cy="530.64" r="2.05" fill="#ffd47e"/>
<circle cx="265.87" cy="531.86" r="2.05" fill="#ffd47e"/>
<circle cx="265.28" cy="533.07" r="2.05" fill="#ffd47e"/>
<line x1="246.65" y1="551.30" x2="282.65" y2="551.30" stroke="#ffd47e" stroke-width="4.5" stroke-linecap="round"/>
<line x1="244.30" y1="530.60" x2="285.30" y2="530.60" stroke="#1a1a1a" stroke-width="1.15"/>
<line x1="264.80" y1="526.40" x2="264.80" y2="535.00" stroke="#1a1a1a" stroke-width="1.15"/>
<line x1="253.90" y1="526.40" x2="275.70" y2="526.40" stroke="#1a1a1a" stroke-width="1.15"/>
<line x1="253.90" y1="535.00" x2="275.70" y2="535.00" stroke="#1a1a1a" stroke-width="1.15"/>
<circle cx="326.80" cy="467.46" r="2.05" fill="#ff8c00"/>
<circle cx="326.80" cy="506.34" r="2.05" fill="#ff8c00"/>
<circle cx="326.80" cy="516.06" r="2.05" fill="#ff8c00"/>
<circle cx="327.60" cy="521.41" r="2.05" fill="#ff8c00"/>
<circle cx="326.80" cy="522.87" r="2.05" fill="#ff8c00"/>
<circle cx="326.80" cy="524.57" r="2.05" fill="#ff8c00"/>
<line x1="309.25" y1="551.30" x2="344.85" y2="551.30" stroke="#ff8c00" stroke-width="4.5" stroke-linecap="round"/>
<line x1="306.10" y1="543.70" x2="347.50" y2="543.70" stroke="#1a1a1a" stroke-width="1.15"/>
<line x1="326.80" y1="540.50" x2="326.80" y2="547.20" stroke="#1a1a1a" stroke-width="1.15"/>
<line x1="316.00" y1="540.50" x2="337.60" y2="540.50" stroke="#1a1a1a" stroke-width="1.15"/>
<line x1="316.00" y1="547.20" x2="337.60" y2="547.20" stroke="#1a1a1a" stroke-width="1.15"/>
<circle cx="388.80" cy="473.54" r="2.05" fill="#c41900"/>
<circle cx="388.80" cy="500.76" r="2.05" fill="#c41900"/>
<circle cx="389.60" cy="503.67" r="2.05" fill="#c41900"/>
<circle cx="388.80" cy="506.83" r="2.05" fill="#c41900"/>
<circle cx="387.80" cy="510.48" r="2.05" fill="#c41900"/>
<circle cx="390.00" cy="511.93" r="2.05" fill="#c41900"/>
<circle cx="388.80" cy="513.39" r="2.05" fill="#c41900"/>
<circle cx="388.00" cy="514.36" r="2.05" fill="#c41900"/>
<circle cx="388.80" cy="521.65" r="2.05" fill="#c41900"/>
<circle cx="388.80" cy="532.83" r="2.05" fill="#c41900"/>
<circle cx="388.00" cy="534.29" r="2.05" fill="#c41900"/>
<circle cx="389.60" cy="535.75" r="2.05" fill="#c41900"/>
<circle cx="388.80" cy="537.21" r="2.05" fill="#c41900"/>
<line x1="371.75" y1="551.30" x2="406.45" y2="551.30" stroke="#c41900" stroke-width="4.5" stroke-linecap="round"/>
<line x1="368.40" y1="541.00" x2="409.20" y2="541.00" stroke="#1a1a1a" stroke-width="1.15"/>
<line x1="388.80" y1="538.50" x2="388.80" y2="543.50" stroke="#1a1a1a" stroke-width="1.15"/>
<line x1="378.30" y1="538.50" x2="399.30" y2="538.50" stroke="#1a1a1a" stroke-width="1.15"/>
<line x1="378.30" y1="543.50" x2="399.30" y2="543.50" stroke="#1a1a1a" stroke-width="1.15"/>
<circle cx="450.90" cy="486.90" r="2.05" fill="#858585"/>
<circle cx="450.90" cy="507.07" r="2.05" fill="#858585"/>
<circle cx="450.90" cy="523.11" r="2.05" fill="#858585"/>
<circle cx="450.90" cy="525.54" r="2.05" fill="#858585"/>
<circle cx="450.90" cy="527.49" r="2.05" fill="#858585"/>
<circle cx="450.90" cy="529.92" r="2.05" fill="#858585"/>
<circle cx="450.90" cy="532.10" r="2.05" fill="#858585"/>
<circle cx="450.90" cy="538.42" r="2.05" fill="#858585"/>
<line x1="433.10" y1="551.30" x2="468.90" y2="551.30" stroke="#858585" stroke-width="4.6" stroke-linecap="round"/>
<line x1="430.30" y1="548.00" x2="471.80" y2="548.00" stroke="#808080" stroke-width="1.3"/>
<line x1="440.30" y1="546.40" x2="461.80" y2="546.40" stroke="#111" stroke-width="1.2"/>
<line x1="450.90" y1="546.40" x2="450.90" y2="549.50" stroke="#111" stroke-width="1.1"/>
<line x1="264.80" y1="551.30" x2="264.80" y2="553.80" stroke="#000" stroke-width="0.8"/>
<line x1="326.80" y1="551.30" x2="326.80" y2="553.80" stroke="#000" stroke-width="0.8"/>
<line x1="388.80" y1="551.30" x2="388.80" y2="553.80" stroke="#000" stroke-width="0.8"/>
<line x1="450.90" y1="551.30" x2="450.90" y2="553.80" stroke="#000" stroke-width="0.8"/>
<text x="265.5" y="571.4" font-size="11.7" font-weight="bold" text-anchor="middle" fill="#000" >Neo-Adj.</text>
<text x="327.0" y="571.4" font-size="11.7" font-weight="bold" text-anchor="middle" fill="#000" >Adj.</text>
<text x="388.9" y="571.4" font-size="11.7" font-weight="bold" text-anchor="middle" fill="#000" >Pall.</text>
<text x="448.8" y="571.4" font-size="11.7" font-weight="bold" text-anchor="middle" fill="#000" >HV</text>
<circle cx="261.50" cy="607.20" r="27.3" fill="#fff" stroke="#222" stroke-width="0.8"/>
<path d="M261.50,607.20 L261.50,579.90 A27.3,27.3 0 0 1 273.12,631.90 Z" fill="#ffd47e" stroke="#222" stroke-width="0.8" stroke-linejoin="round"/>
<text x="274.2" y="608.4" font-size="8" font-weight="bold" text-anchor="middle" fill="#000" >43%</text>
<circle cx="321.60" cy="607.20" r="27.3" fill="#fff" stroke="#222" stroke-width="0.8"/>
<path d="M321.60,607.20 L321.60,579.90 A27.3,27.3 0 0 1 346.30,595.58 Z" fill="#ff8c00" stroke="#222" stroke-width="0.8" stroke-linejoin="round"/>
<text x="332.5" y="596.2" font-size="8" font-weight="bold" text-anchor="middle" fill="#000" >18%</text>
<circle cx="383.60" cy="607.20" r="27.3" fill="#fff" stroke="#222" stroke-width="0.8"/>
<path d="M383.60,607.20 L383.60,579.90 A27.3,27.3 0 0 1 410.04,613.99 Z" fill="#c41900" stroke="#222" stroke-width="0.8" stroke-linejoin="round"/>
<text x="398.4" y="602.3" font-size="8" font-weight="normal" text-anchor="middle" fill="#000" >29%</text>
<circle cx="444.60" cy="607.50" r="27.6" fill="#fff" stroke="#222" stroke-width="0.8"/>
<path d="M444.60,607.50 L444.60,579.90 A27.6,27.6 0 0 1 462.19,586.23 Z" fill="#858585" stroke="#222" stroke-width="0.8" stroke-linejoin="round"/>
<text x="452.5" y="590.4" font-size="8" font-weight="bold" text-anchor="middle" fill="#000" >11%</text>
<line x1="261.70" y1="642.30" x2="448.10" y2="642.30" stroke="#333" stroke-width="1.3"/>
<line x1="261.70" y1="639.10" x2="261.70" y2="645.50" stroke="#333" stroke-width="1.3"/>
<line x1="448.10" y1="639.10" x2="448.10" y2="645.50" stroke="#333" stroke-width="1.3"/>
<polygon points="350.10,635.75 350.78,637.57 352.72,637.65 351.20,638.86 351.72,640.72 350.10,639.65 348.48,640.72 349.00,638.86 347.48,637.65 349.42,637.57" fill="#111"/>
<polygon points="356.10,635.75 356.78,637.57 358.72,637.65 357.20,638.86 357.72,640.72 356.10,639.65 354.48,640.72 355.00,638.86 353.48,637.65 355.42,637.57" fill="#111"/>
<polygon points="362.10,635.75 362.78,637.57 364.72,637.65 363.20,638.86 363.72,640.72 362.10,639.65 360.48,640.72 361.00,638.86 359.48,637.65 361.42,637.57" fill="#111"/>
<line x1="261.70" y1="652.50" x2="324.30" y2="652.50" stroke="#333" stroke-width="1.3"/>
<line x1="261.70" y1="649.30" x2="261.70" y2="655.70" stroke="#333" stroke-width="1.3"/>
<line x1="324.30" y1="649.30" x2="324.30" y2="655.70" stroke="#333" stroke-width="1.3"/>
<polygon points="293.60,645.05 294.28,646.87 296.22,646.95 294.70,648.16 295.22,650.02 293.60,648.95 291.98,650.02 292.50,648.16 290.98,646.95 292.92,646.87" fill="#111"/>
<line x1="386.40" y1="652.60" x2="448.10" y2="652.60" stroke="#333" stroke-width="1.3"/>
<line x1="386.40" y1="649.40" x2="386.40" y2="655.80" stroke="#333" stroke-width="1.3"/>
<line x1="448.10" y1="649.40" x2="448.10" y2="655.80" stroke="#333" stroke-width="1.3"/>
<polygon points="418.10,645.45 418.78,647.27 420.72,647.35 419.20,648.56 419.72,650.42 418.10,649.36 416.48,650.42 417.00,648.56 415.48,647.35 417.42,647.27" fill="#111"/>
<text x="506.8" y="341.9" font-size="16.5" font-weight="bold" text-anchor="start" fill="#000" >c</text>
<text x="531.0" y="345.4" font-size="11.7" font-weight="bold" text-anchor="start" fill="#000" >BRCA1/2</text>
<line x1="549.60" y1="356.90" x2="549.60" y2="552.90" stroke="#000" stroke-width="1.4"/>
<line x1="548.90" y1="552.20" x2="685.00" y2="552.20" stroke="#000" stroke-width="1.4"/>
<line x1="547.10" y1="552.20" x2="549.60" y2="552.20" stroke="#000" stroke-width="1.4"/>
<text x="542.2" y="556.4" font-size="11.8" font-weight="bold" text-anchor="end" fill="#000" >0</text>
<line x1="547.10" y1="503.55" x2="549.60" y2="503.55" stroke="#000" stroke-width="1.4"/>
<text x="542.2" y="507.8" font-size="11.8" font-weight="bold" text-anchor="end" fill="#000" >10</text>
<line x1="547.10" y1="454.90" x2="549.60" y2="454.90" stroke="#000" stroke-width="1.4"/>
<text x="542.2" y="459.1" font-size="11.8" font-weight="bold" text-anchor="end" fill="#000" >20</text>
<line x1="547.10" y1="406.25" x2="549.60" y2="406.25" stroke="#000" stroke-width="1.4"/>
<text x="542.2" y="410.5" font-size="11.8" font-weight="bold" text-anchor="end" fill="#000" >30</text>
<line x1="547.10" y1="357.60" x2="549.60" y2="357.60" stroke="#000" stroke-width="1.4"/>
<text x="542.2" y="361.8" font-size="11.8" font-weight="bold" text-anchor="end" fill="#000" >40</text>
<text transform="translate(517.5,455.6) rotate(-90)" x="0" y="0" font-size="11.7" font-weight="bold" text-anchor="middle" fill="#000">sFR&#945; (ng/mL)</text>
<line x1="588.30" y1="378.40" x2="645.30" y2="378.40" stroke="#333" stroke-width="1.3"/>
<line x1="588.30" y1="375.20" x2="588.30" y2="381.60" stroke="#333" stroke-width="1.3"/>
<line x1="645.30" y1="375.20" x2="645.30" y2="381.60" stroke="#333" stroke-width="1.3"/>
<text x="618.8" y="374.0" font-size="10.2" font-weight="normal" text-anchor="middle" fill="#222" >ns</text>
<circle cx="588.30" cy="395.55" r="1.75" fill="#fff" stroke="#109150" stroke-width="1.15"/>
<circle cx="588.60" cy="452.95" r="1.75" fill="#fff" stroke="#109150" stroke-width="1.15"/>
<circle cx="588.60" cy="459.28" r="1.75" fill="#fff" stroke="#109150" stroke-width="1.15"/>
<circle cx="589.10" cy="460.25" r="1.75" fill="#fff" stroke="#109150" stroke-width="1.15"/>
<circle cx="588.10" cy="464.63" r="1.75" fill="#fff" stroke="#109150" stroke-width="1.15"/>
<circle cx="589.40" cy="467.55" r="1.75" fill="#fff" stroke="#109150" stroke-width="1.15"/>
<circle cx="588.60" cy="474.36" r="1.75" fill="#fff" stroke="#109150" stroke-width="1.15"/>
<circle cx="588.60" cy="477.77" r="1.75" fill="#fff" stroke="#109150" stroke-width="1.15"/>
<circle cx="589.10" cy="478.74" r="1.75" fill="#fff" stroke="#109150" stroke-width="1.15"/>
<circle cx="588.60" cy="486.04" r="1.75" fill="#fff" stroke="#109150" stroke-width="1.15"/>
<circle cx="588.60" cy="490.90" r="1.75" fill="#fff" stroke="#109150" stroke-width="1.15"/>
<circle cx="588.60" cy="493.33" r="1.75" fill="#fff" stroke="#109150" stroke-width="1.15"/>
<circle cx="588.60" cy="514.74" r="1.75" fill="#fff" stroke="#109150" stroke-width="1.15"/>
<circle cx="589.10" cy="517.66" r="1.75" fill="#fff" stroke="#109150" stroke-width="1.15"/>
<circle cx="588.10" cy="519.60" r="1.75" fill="#fff" stroke="#109150" stroke-width="1.15"/>
<circle cx="588.60" cy="521.55" r="1.75" fill="#fff" stroke="#109150" stroke-width="1.15"/>
<line x1="571.55" y1="552.20" x2="605.65" y2="552.20" stroke="#109150" stroke-width="4.5" stroke-linecap="round"/>
<line x1="569.30" y1="526.20" x2="607.90" y2="526.20" stroke="#1a1a1a" stroke-width="1.15"/>
<line x1="588.60" y1="520.40" x2="588.60" y2="532.30" stroke="#1a1a1a" stroke-width="1.15"/>
<line x1="578.75" y1="520.40" x2="598.45" y2="520.40" stroke="#1a1a1a" stroke-width="1.15"/>
<line x1="578.75" y1="532.30" x2="598.45" y2="532.30" stroke="#1a1a1a" stroke-width="1.15"/>
<circle cx="646.10" cy="450.04" r="2.0" fill="#109150"/>
<circle cx="646.10" cy="467.55" r="2.0" fill="#109150"/>
<circle cx="646.10" cy="479.23" r="2.0" fill="#109150"/>
<circle cx="635.80" cy="515.90" r="2.0" fill="#109150"/>
<circle cx="642.60" cy="517.00" r="2.0" fill="#109150"/>
<circle cx="656.60" cy="513.70" r="2.0" fill="#109150"/>
<circle cx="629.10" cy="552.20" r="2.0" fill="#109150"/>
<circle cx="636.10" cy="552.20" r="2.0" fill="#109150"/>
<circle cx="642.90" cy="552.20" r="2.0" fill="#109150"/>
<circle cx="649.90" cy="552.20" r="2.0" fill="#109150"/>
<circle cx="656.60" cy="552.20" r="2.0" fill="#109150"/>
<circle cx="663.40" cy="552.20" r="2.0" fill="#109150"/>
<line x1="627.10" y1="521.40" x2="665.70" y2="521.40" stroke="#1a1a1a" stroke-width="1.15"/>
<line x1="646.40" y1="510.60" x2="646.40" y2="532.30" stroke="#1a1a1a" stroke-width="1.15"/>
<line x1="636.70" y1="510.60" x2="656.10" y2="510.60" stroke="#1a1a1a" stroke-width="1.15"/>
<line x1="636.70" y1="532.30" x2="656.10" y2="532.30" stroke="#1a1a1a" stroke-width="1.15"/>
<line x1="588.60" y1="552.20" x2="588.60" y2="554.60" stroke="#000" stroke-width="0.8"/>
<line x1="646.10" y1="552.20" x2="646.10" y2="554.60" stroke="#000" stroke-width="0.8"/>
<text x="586.4" y="570.5" font-size="11.7" font-weight="bold" text-anchor="middle" fill="#000" >No BRCA</text>
<text x="586.4" y="583.5" font-size="11.7" font-weight="bold" text-anchor="middle" fill="#000" >mutation</text>
<text x="644.5" y="570.5" font-size="11.7" font-weight="bold" text-anchor="middle" fill="#000" >BRCA1/2</text>
<text x="644.5" y="583.5" font-size="11.7" font-weight="bold" text-anchor="middle" fill="#000" >mutation</text>
<circle cx="583.80" cy="615.90" r="27.5" fill="#fff" stroke="#222" stroke-width="0.8"/>
<path d="M583.80,615.90 L583.80,588.40 A27.5,27.5 0 0 1 603.85,634.73 Z" fill="url(#pLG)" stroke="#222" stroke-width="0.8" stroke-linejoin="round"/>
<text x="596.7" y="613.2" font-size="7.5" font-weight="bold" text-anchor="middle" fill="#000" >37%</text>
<circle cx="646.90" cy="614.50" r="27.3" fill="#fff" stroke="#222" stroke-width="0.8"/>
<path d="M646.90,614.50 L646.90,587.20 A27.3,27.3 0 0 1 646.90,641.80 Z" fill="#109150" stroke="#222" stroke-width="0.8" stroke-linejoin="round"/>
<text x="660.7" y="617.2" font-size="7.5" font-weight="bold" text-anchor="middle" fill="#000" >50%</text>
<line x1="585.60" y1="649.40" x2="648.00" y2="649.40" stroke="#333" stroke-width="1.3"/>
<line x1="585.60" y1="646.20" x2="585.60" y2="652.60" stroke="#333" stroke-width="1.3"/>
<line x1="648.00" y1="646.20" x2="648.00" y2="652.60" stroke="#333" stroke-width="1.3"/>
<text x="617.0" y="646.6" font-size="10.2" font-weight="normal" text-anchor="middle" fill="#222" >ns</text>
<text x="0.0" y="678.0" font-size="16.5" font-weight="bold" text-anchor="start" fill="#000" >d</text>
<text x="42.2" y="681.0" font-size="11.7" font-weight="bold" text-anchor="start" fill="#000" >Anti-FR&#945; IgG autoAbs</text>
<line x1="41.90" y1="695.10" x2="41.90" y2="890.30" stroke="#000" stroke-width="1.4"/>
<line x1="41.20" y1="889.60" x2="166.00" y2="889.60" stroke="#000" stroke-width="1.4"/>
<line x1="39.40" y1="889.60" x2="41.90" y2="889.60" stroke="#000" stroke-width="1.4"/>
<text x="34.5" y="893.8" font-size="11.8" font-weight="bold" text-anchor="end" fill="#000" >0</text>
<line x1="39.40" y1="841.15" x2="41.90" y2="841.15" stroke="#000" stroke-width="1.4"/>
<text x="34.5" y="845.4" font-size="11.8" font-weight="bold" text-anchor="end" fill="#000" >20</text>
<line x1="39.40" y1="792.70" x2="41.90" y2="792.70" stroke="#000" stroke-width="1.4"/>
<text x="34.5" y="796.9" font-size="11.8" font-weight="bold" text-anchor="end" fill="#000" >40</text>
<line x1="39.40" y1="744.25" x2="41.90" y2="744.25" stroke="#000" stroke-width="1.4"/>
<text x="34.5" y="748.5" font-size="11.8" font-weight="bold" text-anchor="end" fill="#000" >60</text>
<line x1="39.40" y1="695.80" x2="41.90" y2="695.80" stroke="#000" stroke-width="1.4"/>
<text x="34.5" y="700.0" font-size="11.8" font-weight="bold" text-anchor="end" fill="#000" >80</text>
<text transform="translate(10.9,793.2) rotate(-90)" x="0" y="0" font-size="11.7" font-weight="bold" text-anchor="middle" fill="#000">Anti-FR&#945; IgG (ng/mL)</text>
<line x1="72.50" y1="698.40" x2="134.00" y2="698.40" stroke="#333" stroke-width="1.3"/>
<line x1="72.50" y1="695.20" x2="72.50" y2="701.60" stroke="#333" stroke-width="1.3"/>
<line x1="134.00" y1="695.20" x2="134.00" y2="701.60" stroke="#333" stroke-width="1.3"/>
<text x="103.0" y="693.9" font-size="10.2" font-weight="normal" text-anchor="middle" fill="#222" >ns</text>
<circle cx="72.50" cy="707.91" r="2.05" fill="#ff2a00"/>
<circle cx="72.50" cy="809.66" r="2.05" fill="#ff2a00"/>
<circle cx="72.50" cy="849.63" r="2.05" fill="#ff2a00"/>
<circle cx="72.50" cy="850.84" r="2.05" fill="#ff2a00"/>
<circle cx="72.50" cy="858.11" r="2.05" fill="#ff2a00"/>
<circle cx="72.50" cy="859.32" r="2.05" fill="#ff2a00"/>
<circle cx="72.50" cy="860.53" r="2.05" fill="#ff2a00"/>
<circle cx="72.50" cy="871.43" r="2.05" fill="#ff2a00"/>
<circle cx="72.50" cy="873.85" r="2.05" fill="#ff2a00"/>
<circle cx="72.50" cy="876.28" r="2.05" fill="#ff2a00"/>
<circle cx="72.50" cy="879.91" r="2.05" fill="#ff2a00"/>
<circle cx="72.50" cy="882.33" r="2.05" fill="#ff2a00"/>
<line x1="54.70" y1="889.60" x2="90.50" y2="889.60" stroke="#ff2a00" stroke-width="4.6" stroke-linecap="round"/>
<line x1="52.50" y1="884.10" x2="92.50" y2="884.10" stroke="#1a1a1a" stroke-width="1.15"/>
<line x1="72.50" y1="882.20" x2="72.50" y2="886.60" stroke="#1a1a1a" stroke-width="1.15"/>
<line x1="62.00" y1="882.20" x2="83.00" y2="882.20" stroke="#1a1a1a" stroke-width="1.15"/>
<line x1="62.00" y1="886.60" x2="83.00" y2="886.60" stroke="#1a1a1a" stroke-width="1.15"/>
<circle cx="134.20" cy="825.40" r="2.05" fill="#858585"/>
<circle cx="134.20" cy="847.21" r="2.05" fill="#858585"/>
<circle cx="134.20" cy="850.84" r="2.05" fill="#858585"/>
<circle cx="134.20" cy="864.16" r="2.05" fill="#858585"/>
<circle cx="134.20" cy="866.59" r="2.05" fill="#858585"/>
<circle cx="134.20" cy="872.64" r="2.05" fill="#858585"/>
<circle cx="133.00" cy="876.52" r="2.05" fill="#858585"/>
<circle cx="135.40" cy="877.49" r="2.05" fill="#858585"/>
<circle cx="134.20" cy="878.94" r="2.05" fill="#858585"/>
<circle cx="132.70" cy="880.39" r="2.05" fill="#858585"/>
<circle cx="135.60" cy="881.12" r="2.05" fill="#858585"/>
<line x1="116.20" y1="889.60" x2="152.50" y2="889.60" stroke="#858585" stroke-width="4.2" stroke-linecap="round"/>
<line x1="114.00" y1="883.60" x2="154.40" y2="883.60" stroke="#1a1a1a" stroke-width="1.15"/>
<line x1="134.20" y1="881.20" x2="134.20" y2="886.20" stroke="#1a1a1a" stroke-width="1.15"/>
<line x1="123.90" y1="881.20" x2="144.50" y2="881.20" stroke="#1a1a1a" stroke-width="1.15"/>
<line x1="123.90" y1="886.20" x2="144.50" y2="886.20" stroke="#1a1a1a" stroke-width="1.15"/>
<line x1="72.50" y1="889.60" x2="72.50" y2="892.00" stroke="#000" stroke-width="0.8"/>
<line x1="134.20" y1="889.60" x2="134.20" y2="892.00" stroke="#000" stroke-width="0.8"/>
<text x="72.7" y="906.5" font-size="11.7" font-weight="bold" text-anchor="middle" fill="#000" >Patients</text>
<text x="134.2" y="906.5" font-size="11.7" font-weight="bold" text-anchor="middle" fill="#000" >HV</text>
<circle cx="69.10" cy="940.60" r="27.7" fill="#fff" stroke="#222" stroke-width="0.8"/>
<path d="M69.10,940.60 L69.10,912.90 A27.7,27.7 0 0 1 93.37,927.26 Z" fill="#ff2a00" stroke="#222" stroke-width="0.8" stroke-linejoin="round"/>
<text x="78.2" y="929.3" font-size="7.5" font-weight="bold" text-anchor="middle" fill="#000" >17%</text>
<circle cx="128.70" cy="940.60" r="27.7" fill="#fff" stroke="#222" stroke-width="0.8"/>
<path d="M128.70,940.60 L128.70,912.90 A27.7,27.7 0 0 1 155.04,949.16 Z" fill="#6e6e6e" stroke="#222" stroke-width="0.8" stroke-linejoin="round"/>
<text x="142.7" y="934.2" font-size="7.5" font-weight="bold" text-anchor="middle" fill="#000" >30%</text>
<line x1="68.20" y1="974.80" x2="131.00" y2="974.80" stroke="#6a6a6a" stroke-width="1.5"/>
<line x1="68.20" y1="971.60" x2="68.20" y2="978.00" stroke="#6a6a6a" stroke-width="1.5"/>
<line x1="131.00" y1="971.60" x2="131.00" y2="978.00" stroke="#6a6a6a" stroke-width="1.5"/>
<text x="100.2" y="972.6" font-size="10.2" font-weight="normal" text-anchor="middle" fill="#222" >ns</text>
<line x1="236.00" y1="696.80" x2="236.00" y2="891.20" stroke="#000" stroke-width="1.4"/>
<line x1="235.30" y1="890.50" x2="482.70" y2="890.50" stroke="#000" stroke-width="1.4"/>
<line x1="233.50" y1="890.50" x2="236.00" y2="890.50" stroke="#000" stroke-width="1.4"/>
<text x="228.6" y="894.7" font-size="11.8" font-weight="bold" text-anchor="end" fill="#000" >0</text>
<line x1="233.50" y1="842.25" x2="236.00" y2="842.25" stroke="#000" stroke-width="1.4"/>
<text x="228.6" y="846.5" font-size="11.8" font-weight="bold" text-anchor="end" fill="#000" >20</text>
<line x1="233.50" y1="794.00" x2="236.00" y2="794.00" stroke="#000" stroke-width="1.4"/>
<text x="228.6" y="798.2" font-size="11.8" font-weight="bold" text-anchor="end" fill="#000" >40</text>
<line x1="233.50" y1="745.75" x2="236.00" y2="745.75" stroke="#000" stroke-width="1.4"/>
<text x="228.6" y="750.0" font-size="11.8" font-weight="bold" text-anchor="end" fill="#000" >60</text>
<line x1="233.50" y1="697.50" x2="236.00" y2="697.50" stroke="#000" stroke-width="1.4"/>
<text x="228.6" y="701.7" font-size="11.8" font-weight="bold" text-anchor="end" fill="#000" >80</text>
<text transform="translate(204.5,793.2) rotate(-90)" x="0" y="0" font-size="11.7" font-weight="bold" text-anchor="middle" fill="#000">Anti-FR&#945; IgG (ng/mL)</text>
<line x1="264.30" y1="700.10" x2="448.90" y2="700.10" stroke="#555" stroke-width="1.7"/>
<text x="357.0" y="695.1" font-size="10.2" font-weight="normal" text-anchor="middle" fill="#222" >ns</text>
<circle cx="267.80" cy="810.89" r="2.05" fill="#ffd47e"/>
<circle cx="267.80" cy="851.90" r="2.05" fill="#ffd47e"/>
<circle cx="267.80" cy="875.30" r="2.05" fill="#ffd47e"/>
<circle cx="267.80" cy="876.99" r="2.05" fill="#ffd47e"/>
<circle cx="267.80" cy="880.85" r="2.05" fill="#ffd47e"/>
<circle cx="267.80" cy="883.26" r="2.05" fill="#ffd47e"/>
<line x1="249.65" y1="890.50" x2="286.35" y2="890.50" stroke="#ffd47e" stroke-width="4.5" stroke-linecap="round"/>
<line x1="247.20" y1="884.60" x2="288.40" y2="884.60" stroke="#1a1a1a" stroke-width="1.15"/>
<line x1="267.80" y1="881.40" x2="267.80" y2="887.80" stroke="#1a1a1a" stroke-width="1.15"/>
<line x1="257.10" y1="881.40" x2="278.50" y2="881.40" stroke="#1a1a1a" stroke-width="1.15"/>
<line x1="257.10" y1="887.80" x2="278.50" y2="887.80" stroke="#1a1a1a" stroke-width="1.15"/>
<circle cx="329.20" cy="709.56" r="2.05" fill="#ff8c00"/>
<circle cx="329.20" cy="857.93" r="2.05" fill="#ff8c00"/>
<circle cx="329.20" cy="871.68" r="2.05" fill="#ff8c00"/>
<circle cx="329.20" cy="873.61" r="2.05" fill="#ff8c00"/>
<circle cx="329.20" cy="875.06" r="2.05" fill="#ff8c00"/>
<circle cx="329.20" cy="880.85" r="2.05" fill="#ff8c00"/>
<line x1="311.25" y1="890.50" x2="347.35" y2="890.50" stroke="#ff8c00" stroke-width="4.5" stroke-linecap="round"/>
<line x1="308.90" y1="882.20" x2="349.50" y2="882.20" stroke="#1a1a1a" stroke-width="1.15"/>
<line x1="329.20" y1="876.40" x2="329.20" y2="887.60" stroke="#1a1a1a" stroke-width="1.15"/>
<line x1="318.70" y1="876.40" x2="339.70" y2="876.40" stroke="#1a1a1a" stroke-width="1.15"/>
<line x1="318.70" y1="887.60" x2="339.70" y2="887.60" stroke="#1a1a1a" stroke-width="1.15"/>
<circle cx="390.60" cy="850.69" r="2.05" fill="#c41900"/>
<circle cx="389.80" cy="859.14" r="2.05" fill="#c41900"/>
<circle cx="391.40" cy="860.10" r="2.05" fill="#c41900"/>
<line x1="372.75" y1="890.50" x2="408.75" y2="890.50" stroke="#c41900" stroke-width="4.5" stroke-linecap="round"/>
<rect x="380" y="885.3" width="22" height="2" fill="#555"/>
<line x1="370.30" y1="887.30" x2="410.90" y2="887.30" stroke="#1a1a1a" stroke-width="1.15"/>
<line x1="390.60" y1="885.80" x2="390.60" y2="888.80" stroke="#1a1a1a" stroke-width="1.15"/>
<line x1="380.60" y1="885.80" x2="400.60" y2="885.80" stroke="#1a1a1a" stroke-width="1.15"/>
<line x1="380.60" y1="888.80" x2="400.60" y2="888.80" stroke="#1a1a1a" stroke-width="1.15"/>
<circle cx="452.10" cy="826.57" r="2.05" fill="#858585"/>
<circle cx="452.10" cy="848.28" r="2.05" fill="#858585"/>
<circle cx="452.10" cy="851.90" r="2.05" fill="#858585"/>
<circle cx="452.10" cy="865.17" r="2.05" fill="#858585"/>
<circle cx="452.10" cy="868.79" r="2.05" fill="#858585"/>
<circle cx="452.10" cy="873.61" r="2.05" fill="#858585"/>
<circle cx="450.50" cy="876.51" r="2.05" fill="#858585"/>
<circle cx="452.30" cy="877.71" r="2.05" fill="#858585"/>
<circle cx="453.90" cy="878.92" r="2.05" fill="#858585"/>
<circle cx="451.30" cy="880.13" r="2.05" fill="#858585"/>
<circle cx="453.10" cy="881.09" r="2.05" fill="#858585"/>
<circle cx="454.30" cy="882.30" r="2.05" fill="#858585"/>
<circle cx="452.10" cy="882.78" r="2.05" fill="#858585"/>
<line x1="433.60" y1="890.50" x2="470.40" y2="890.50" stroke="#858585" stroke-width="4.2" stroke-linecap="round"/>
<line x1="431.60" y1="884.40" x2="472.60" y2="884.40" stroke="#1a1a1a" stroke-width="1.15"/>
<line x1="452.10" y1="882.20" x2="452.10" y2="887.00" stroke="#1a1a1a" stroke-width="1.15"/>
<line x1="441.60" y1="882.20" x2="462.60" y2="882.20" stroke="#1a1a1a" stroke-width="1.15"/>
<line x1="441.60" y1="887.00" x2="462.60" y2="887.00" stroke="#1a1a1a" stroke-width="1.15"/>
<line x1="267.80" y1="890.50" x2="267.80" y2="893.00" stroke="#000" stroke-width="0.8"/>
<line x1="329.20" y1="890.50" x2="329.20" y2="893.00" stroke="#000" stroke-width="0.8"/>
<line x1="390.60" y1="890.50" x2="390.60" y2="893.00" stroke="#000" stroke-width="0.8"/>
<line x1="452.10" y1="890.50" x2="452.10" y2="893.00" stroke="#000" stroke-width="0.8"/>
<text x="267.7" y="908.5" font-size="11.7" font-weight="bold" text-anchor="middle" fill="#000" >Neo-Adj.</text>
<text x="329.3" y="908.5" font-size="11.7" font-weight="bold" text-anchor="middle" fill="#000" >Adj.</text>
<text x="390.9" y="908.5" font-size="11.7" font-weight="bold" text-anchor="middle" fill="#000" >Pall.</text>
<text x="452.2" y="908.5" font-size="11.7" font-weight="bold" text-anchor="middle" fill="#000" >HV</text>
<circle cx="262.30" cy="941.50" r="27.5" fill="#fff" stroke="#222" stroke-width="0.8"/>
<path d="M262.30,941.50 L262.30,914.00 A27.5,27.5 0 0 1 289.58,944.95 Z" fill="#ffd47e" stroke="#222" stroke-width="0.8" stroke-linejoin="round"/>
<text x="275.7" y="934.2" font-size="7.5" font-weight="bold" text-anchor="middle" fill="#000" >27%</text>
<circle cx="322.40" cy="941.50" r="27.5" fill="#fff" stroke="#222" stroke-width="0.8"/>
<path d="M322.40,941.50 L322.40,914.00 A27.5,27.5 0 0 1 347.97,931.38 Z" fill="#ff8c00" stroke="#222" stroke-width="0.8" stroke-linejoin="round"/>
<text x="332.8" y="930.3" font-size="7.5" font-weight="bold" text-anchor="middle" fill="#000" >19%</text>
<circle cx="385.00" cy="941.50" r="27.5" fill="#fff" stroke="#222" stroke-width="0.8"/>
<path d="M385.00,941.50 L385.00,914.00 A27.5,27.5 0 0 1 401.16,919.25 Z" fill="#c41900" stroke="#222" stroke-width="0.8" stroke-linejoin="round"/>
<line x1="391.40" y1="926.60" x2="399.60" y2="930.80" stroke="#000" stroke-width="0.7"/>
<text x="400.3" y="938.2" font-size="7.5" font-weight="bold" text-anchor="middle" fill="#000" >10%</text>
<circle cx="445.50" cy="941.50" r="27.3" fill="#fff" stroke="#222" stroke-width="0.8"/>
<path d="M445.50,941.50 L445.50,914.20 A27.3,27.3 0 0 1 471.46,949.94 Z" fill="#6e6e6e" stroke="#222" stroke-width="0.8" stroke-linejoin="round"/>
<text x="460.3" y="935.2" font-size="7.5" font-weight="bold" text-anchor="middle" fill="#000" >30%</text>
<line x1="261.50" y1="975.60" x2="448.40" y2="975.60" stroke="#333" stroke-width="1.3"/>
<line x1="261.50" y1="972.40" x2="261.50" y2="978.80" stroke="#333" stroke-width="1.3"/>
<line x1="448.40" y1="972.40" x2="448.40" y2="978.80" stroke="#333" stroke-width="1.3"/>
<text x="355.8" y="973.3" font-size="10.2" font-weight="normal" text-anchor="middle" fill="#222" >ns</text>
<line x1="325.30" y1="985.80" x2="448.40" y2="985.80" stroke="#333" stroke-width="1.3"/>
<line x1="325.30" y1="982.60" x2="325.30" y2="989.00" stroke="#333" stroke-width="1.3"/>
<line x1="448.40" y1="982.60" x2="448.40" y2="989.00" stroke="#333" stroke-width="1.3"/>
<text x="388.8" y="983.7" font-size="10.2" font-weight="normal" text-anchor="middle" fill="#222" >ns</text>
<line x1="386.40" y1="996.50" x2="448.40" y2="996.50" stroke="#333" stroke-width="1.3"/>
<line x1="386.40" y1="993.30" x2="386.40" y2="999.70" stroke="#333" stroke-width="1.3"/>
<line x1="448.40" y1="993.30" x2="448.40" y2="999.70" stroke="#333" stroke-width="1.3"/>
<polygon points="417.40,988.85 418.08,990.67 420.02,990.75 418.50,991.96 419.02,993.82 417.40,992.75 415.78,993.82 416.30,991.96 414.78,990.75 416.72,990.67" fill="#111"/>
<line x1="549.40" y1="703.20" x2="549.40" y2="891.60" stroke="#000" stroke-width="1.4"/>
<line x1="548.70" y1="890.90" x2="679.60" y2="890.90" stroke="#000" stroke-width="1.4"/>
<line x1="546.90" y1="890.90" x2="549.40" y2="890.90" stroke="#000" stroke-width="1.4"/>
<text x="542.0" y="895.1" font-size="11.8" font-weight="bold" text-anchor="end" fill="#000" >0</text>
<line x1="546.90" y1="844.15" x2="549.40" y2="844.15" stroke="#000" stroke-width="1.4"/>
<text x="542.0" y="848.4" font-size="11.8" font-weight="bold" text-anchor="end" fill="#000" >20</text>
<line x1="546.90" y1="797.40" x2="549.40" y2="797.40" stroke="#000" stroke-width="1.4"/>
<text x="542.0" y="801.6" font-size="11.8" font-weight="bold" text-anchor="end" fill="#000" >40</text>
<line x1="546.90" y1="750.65" x2="549.40" y2="750.65" stroke="#000" stroke-width="1.4"/>
<text x="542.0" y="754.9" font-size="11.8" font-weight="bold" text-anchor="end" fill="#000" >60</text>
<line x1="546.90" y1="703.90" x2="549.40" y2="703.90" stroke="#000" stroke-width="1.4"/>
<text x="542.0" y="708.1" font-size="11.8" font-weight="bold" text-anchor="end" fill="#000" >80</text>
<text transform="translate(522.0,797.6) rotate(-90)" x="0" y="0" font-size="11.7" font-weight="bold" text-anchor="middle" fill="#000">Anti-FR&#945; IgG (ng/mL)</text>
<line x1="582.40" y1="705.40" x2="648.00" y2="705.40" stroke="#333" stroke-width="1.3"/>
<line x1="582.40" y1="702.20" x2="582.40" y2="708.60" stroke="#333" stroke-width="1.3"/>
<line x1="648.00" y1="702.20" x2="648.00" y2="708.60" stroke="#333" stroke-width="1.3"/>
<text x="616.1" y="700.8" font-size="10.2" font-weight="normal" text-anchor="middle" fill="#222" >ns</text>
<circle cx="582.40" cy="715.59" r="1.85" fill="#8a8a8a" stroke="#222" stroke-width="0.8"/>
<circle cx="582.40" cy="813.76" r="1.85" fill="#8a8a8a" stroke="#222" stroke-width="0.8"/>
<circle cx="582.40" cy="852.33" r="1.85" fill="#8a8a8a" stroke="#222" stroke-width="0.8"/>
<circle cx="582.40" cy="859.34" r="1.85" fill="#8a8a8a" stroke="#222" stroke-width="0.8"/>
<circle cx="582.40" cy="861.21" r="1.85" fill="#8a8a8a" stroke="#222" stroke-width="0.8"/>
<circle cx="582.40" cy="862.15" r="1.85" fill="#8a8a8a" stroke="#222" stroke-width="0.8"/>
<circle cx="582.40" cy="872.20" r="1.85" fill="#8a8a8a" stroke="#222" stroke-width="0.8"/>
<circle cx="582.40" cy="874.07" r="1.85" fill="#8a8a8a" stroke="#222" stroke-width="0.8"/>
<circle cx="582.40" cy="876.88" r="1.85" fill="#8a8a8a" stroke="#222" stroke-width="0.8"/>
<circle cx="582.40" cy="882.72" r="1.85" fill="#8a8a8a" stroke="#222" stroke-width="0.8"/>
<line x1="563.40" y1="890.90" x2="601.70" y2="890.90" stroke="#b0b0b0" stroke-width="4.6" stroke-linecap="round"/>
<line x1="563" y1="890.9" x2="602" y2="890.9" stroke="#111" stroke-width="1.1" stroke-dasharray="1.2 1.3"/>
<circle cx="563.30" cy="890.90" r="1.7" fill="none" stroke="#222" stroke-width="0.7"/>
<circle cx="565.73" cy="890.90" r="1.7" fill="none" stroke="#222" stroke-width="0.7"/>
<circle cx="568.16" cy="890.90" r="1.7" fill="none" stroke="#222" stroke-width="0.7"/>
<circle cx="570.59" cy="890.90" r="1.7" fill="none" stroke="#222" stroke-width="0.7"/>
<circle cx="573.02" cy="890.90" r="1.7" fill="none" stroke="#222" stroke-width="0.7"/>
<circle cx="575.45" cy="890.90" r="1.7" fill="none" stroke="#222" stroke-width="0.7"/>
<circle cx="577.88" cy="890.90" r="1.7" fill="none" stroke="#222" stroke-width="0.7"/>
<circle cx="580.31" cy="890.90" r="1.7" fill="none" stroke="#222" stroke-width="0.7"/>
<circle cx="582.74" cy="890.90" r="1.7" fill="none" stroke="#222" stroke-width="0.7"/>
<circle cx="585.17" cy="890.90" r="1.7" fill="none" stroke="#222" stroke-width="0.7"/>
<circle cx="587.60" cy="890.90" r="1.7" fill="none" stroke="#222" stroke-width="0.7"/>
<circle cx="590.03" cy="890.90" r="1.7" fill="none" stroke="#222" stroke-width="0.7"/>
<circle cx="592.46" cy="890.90" r="1.7" fill="none" stroke="#222" stroke-width="0.7"/>
<circle cx="594.89" cy="890.90" r="1.7" fill="none" stroke="#222" stroke-width="0.7"/>
<circle cx="597.32" cy="890.90" r="1.7" fill="none" stroke="#222" stroke-width="0.7"/>
<circle cx="599.75" cy="890.90" r="1.7" fill="none" stroke="#222" stroke-width="0.7"/>
<circle cx="602.18" cy="890.90" r="1.7" fill="none" stroke="#222" stroke-width="0.7"/>
<line x1="561.10" y1="884.50" x2="603.70" y2="884.50" stroke="#1a1a1a" stroke-width="1.15"/>
<line x1="582.40" y1="881.50" x2="582.40" y2="887.50" stroke="#1a1a1a" stroke-width="1.15"/>
<line x1="571.60" y1="881.50" x2="593.20" y2="881.50" stroke="#1a1a1a" stroke-width="1.15"/>
<line x1="571.60" y1="887.50" x2="593.20" y2="887.50" stroke="#1a1a1a" stroke-width="1.15"/>
<circle cx="647.40" cy="853.50" r="2.05" fill="#000"/>
<circle cx="647.40" cy="861.68" r="2.05" fill="#000"/>
<circle cx="647.40" cy="879.21" r="2.05" fill="#000"/>
<circle cx="647.40" cy="880.38" r="2.05" fill="#000"/>
<circle cx="647.40" cy="882.72" r="2.05" fill="#000"/>
<line x1="628.65" y1="890.90" x2="667.05" y2="890.90" stroke="#000" stroke-width="4.5" stroke-linecap="round"/>
<rect x="627" y="887.5" width="42" height="1.5" fill="#666"/>
<line x1="582.40" y1="890.90" x2="582.40" y2="893.30" stroke="#000" stroke-width="0.8"/>
<line x1="647.40" y1="890.90" x2="647.40" y2="893.30" stroke="#000" stroke-width="0.8"/>
<text x="583.7" y="908.3" font-size="11.7" font-weight="bold" text-anchor="middle" fill="#000" >sFR&#945; &#8211;ve</text>
<text x="647.2" y="908.3" font-size="11.7" font-weight="bold" text-anchor="middle" fill="#000" >sFR&#945; +ve</text>
<circle cx="582.70" cy="940.70" r="27.3" fill="#fff" stroke="#222" stroke-width="0.8"/>
<path d="M582.70,940.70 L582.70,913.40 A27.3,27.3 0 0 1 607.40,929.08 Z" fill="#000" stroke="#222" stroke-width="0.8" stroke-linejoin="round"/>
<text x="592.6" y="928.6" font-size="7.5" font-weight="normal" text-anchor="middle" fill="#fff" >18%</text>
<circle cx="645.40" cy="940.70" r="27.3" fill="#fff" stroke="#222" stroke-width="0.8"/>
<path d="M645.40,940.70 L645.40,913.40 A27.3,27.3 0 0 1 671.84,933.91 Z" fill="url(#pGr)" stroke="#222" stroke-width="0.8" stroke-linejoin="round"/>
<text x="654.7" y="928.6" font-size="7.5" font-weight="normal" text-anchor="middle" fill="#222" >21%</text>
<line x1="582.40" y1="980.70" x2="645.80" y2="980.70" stroke="#333" stroke-width="1.3"/>
<line x1="582.40" y1="977.50" x2="582.40" y2="983.90" stroke="#333" stroke-width="1.3"/>
<line x1="645.80" y1="977.50" x2="645.80" y2="983.90" stroke="#333" stroke-width="1.3"/>
<text x="614.2" y="978.1" font-size="10.2" font-weight="normal" text-anchor="middle" fill="#222" >ns</text>
</svg></body></html>
